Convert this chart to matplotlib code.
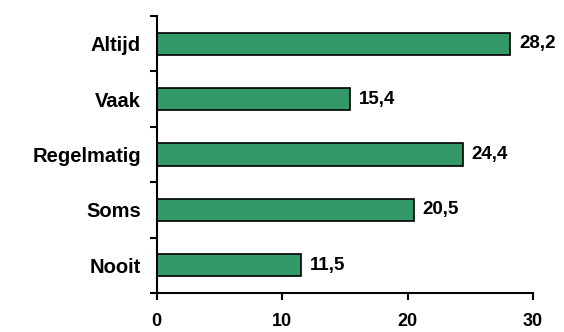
import matplotlib
matplotlib.use("Agg")
import matplotlib.pyplot as plt

# data
categories = ["Altijd", "Vaak", "Regelmatig", "Soms", "Nooit"]
values = [28.2, 15.4, 24.4, 20.5, 11.5]
value_labels = ["28,2", "15,4", "24,4", "20,5", "11,5"]
xticks = [0, 10, 20, 30]

plt.rcParams["font.family"] = ["Liberation Sans", "DejaVu Sans"]
plt.rcParams["font.weight"] = "bold"

fig = plt.figure(figsize=(5.64, 3.32), dpi=100)
ax = fig.add_axes([0.278, 0.1175, 0.667, 0.8345])

pos = list(range(len(categories)))[::-1]
ax.barh(pos, values, height=0.4, color="#339966", edgecolor="black", linewidth=1.2)

for p, v, lab in zip(pos, values, value_labels):
    ax.text(v + 0.7, p, lab, va="center", ha="left", fontsize=13.5, fontweight="bold")

ax.set_xlim(0, 30)
ax.set_ylim(-0.5, len(categories) - 0.5)
ax.set_xticks(xticks)
ax.set_xticklabels([str(t) for t in xticks], fontsize=13, fontweight="bold")

# categorie-labels op de middens, tickstreepjes op de grenzen
ax.set_yticks(pos)
ax.set_yticklabels(categories, fontsize=14.5, fontweight="bold")
ax.tick_params(axis="y", which="major", length=0, pad=11.5)
ax.set_yticks([i - 0.5 for i in range(len(categories) + 1)], minor=True)
ax.tick_params(axis="y", which="minor", length=5, width=1.5, direction="out")
ax.tick_params(axis="x", length=5, width=1.5, direction="out", pad=9.5)

for s in ["top", "right"]:
    ax.spines[s].set_visible(False)
for s in ["left", "bottom"]:
    ax.spines[s].set_linewidth(1.5)

fig.savefig("out.png", dpi=100)
